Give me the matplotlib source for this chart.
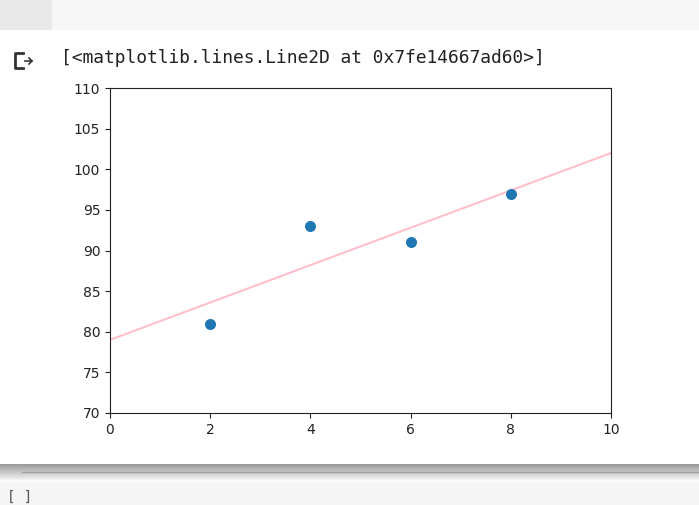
import numpy as np
import matplotlib
matplotlib.use("Agg")
import matplotlib.pyplot as plt
from matplotlib.patches import Rectangle
from matplotlib.lines import Line2D

# data
x_pts = [2, 4, 6, 8]
y_pts = [81, 93, 91, 97]
line_x = [0, 10]
line_y = [79, 102]
xticks = [0, 2, 4, 6, 8, 10]
yticks = [70, 75, 80, 85, 90, 95, 100, 105, 110]
out_text = "[<matplotlib.lines.Line2D at 0x7fe14667ad60>]"

W, H = 699, 505
fig = plt.figure(figsize=(W / 100, H / 100), dpi=100)
fig.patch.set_facecolor("white")


def fx(px):
    return px / W


def fy(py):
    return 1 - py / H


# notebook chrome
fig.patches.append(Rectangle((0, fy(30)), 1, 30 / H, transform=fig.transFigure,
                             facecolor="#f7f7f7", edgecolor="none", zorder=0))
fig.patches.append(Rectangle((0, fy(30)), fx(52), 30 / H, transform=fig.transFigure,
                             facecolor="#e9e9e9", edgecolor="none", zorder=0))

# output icon
fig.lines.append(Line2D([fx(23), fx(15), fx(15), fx(23)], [fy(53), fy(53), fy(68), fy(68)],
                        transform=fig.transFigure, color="#333333", lw=2.0))
fig.lines.append(Line2D([fx(25), fx(32)], [fy(61), fy(61)],
                        transform=fig.transFigure, color="#333333", lw=1.2))
fig.lines.append(Line2D([fx(29), fx(32), fx(29)], [fy(58), fy(61), fy(64)],
                        transform=fig.transFigure, color="#333333", lw=1.2))

fig.text(fx(61), fy(58), out_text, family="DejaVu Sans Mono", fontsize=12.9,
         color="#212121", va="center", ha="left")

# bottom shadow / divider and next cell
sh = fig.add_axes([0, fy(482), 1, 18 / H])
grad = np.linspace(0.6, 1.0, 50).reshape(-1, 1)
sh.imshow(np.dstack([grad, grad, grad]), aspect="auto", extent=[0, 1, 0, 1])
sh.axis("off")
fig.lines.append(Line2D([fx(22), 1], [fy(472), fy(472)], transform=fig.transFigure,
                        color="#a0a0a0", lw=1.0, zorder=5))
fig.patches.append(Rectangle((0, 0), 1, 23 / H, transform=fig.transFigure,
                             facecolor="#f5f5f5", edgecolor="none", zorder=0))
fig.text(fx(7), fy(504), "[ ]", family="DejaVu Sans Mono", fontsize=10,
         color="#555555", va="bottom", ha="left")

# chart
ax = fig.add_axes([fx(110), fy(413), 501 / W, 325 / H])
ax.scatter(x_pts, y_pts, s=48, color="#1f77b4", zorder=3)
ax.plot(line_x, line_y, color="pink", lw=1.5)
ax.set_xlim(0, 10)
ax.set_ylim(70, 110)
ax.set_xticks(xticks)
ax.set_yticks(yticks)
ax.tick_params(labelsize=10, colors="#222222")
for s in ax.spines.values():
    s.set_color("#222222")

fig.savefig("out.png", dpi=100)
